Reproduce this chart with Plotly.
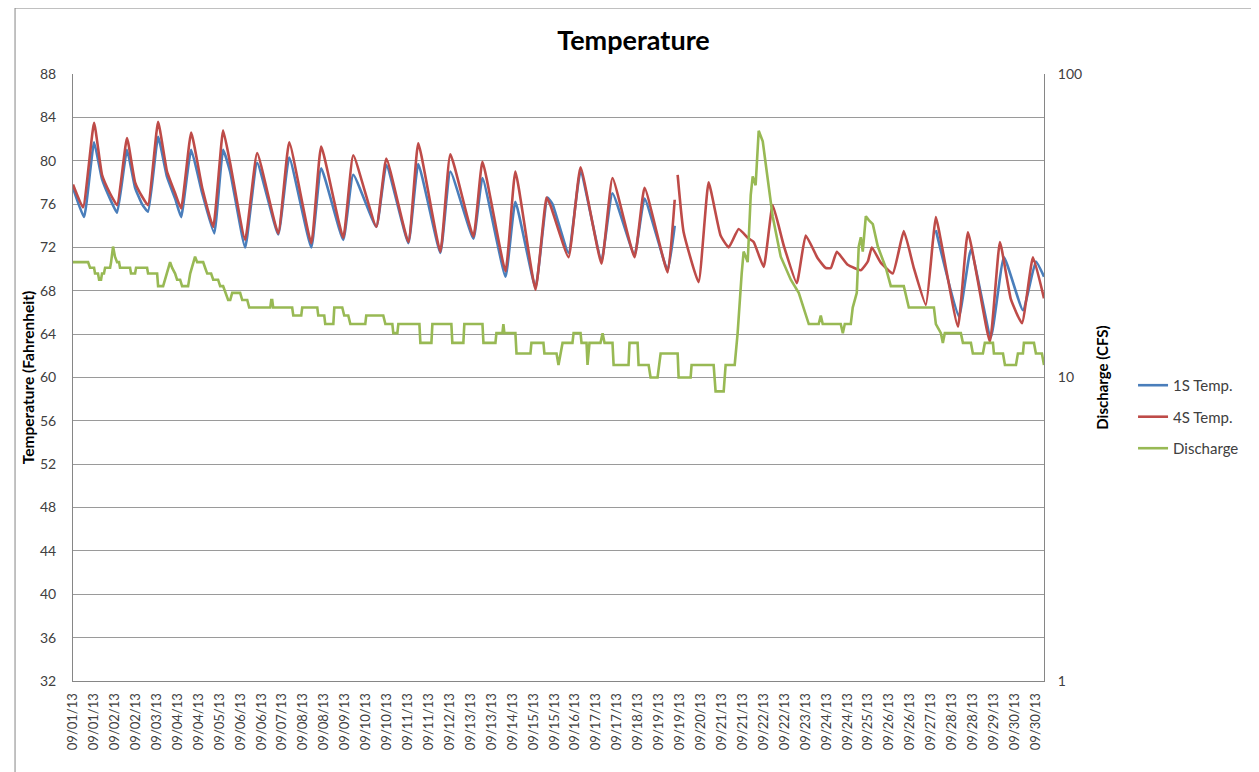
import plotly.graph_objects as go

# ---- tick labels (one every 15 hourly samples) ----
tick_labels = ["09/01/13", "09/01/13", "09/02/13", "09/02/13", "09/03/13", "09/04/13", "09/04/13",
               "09/05/13", "09/06/13", "09/06/13", "09/07/13", "09/08/13", "09/08/13", "09/09/13",
               "09/10/13", "09/10/13", "09/11/13", "09/11/13", "09/12/13", "09/13/13", "09/13/13",
               "09/14/13", "09/15/13", "09/15/13", "09/16/13", "09/17/13", "09/17/13", "09/18/13",
               "09/19/13", "09/19/13", "09/20/13", "09/21/13", "09/21/13", "09/22/13", "09/22/13",
               "09/23/13", "09/24/13", "09/24/13", "09/25/13", "09/26/13", "09/26/13", "09/27/13",
               "09/28/13", "09/28/13", "09/29/13", "09/30/13", "09/30/13"]
tick_hours = [15 * i for i in range(len(tick_labels))]

# ---- 4S Temp. (hours since start, deg F) ----
t4_hours = [0, 7.2, 15.1, 20.8, 26.5, 31.6, 38.7, 44.5, 49.5, 53.8, 61.0, 67.4, 73.2, 77.5, 84.7,
            92.6, 100.5, 107.6, 112.6, 123.4, 132.0, 147.1, 155.0, 170.8, 177.9, 193.7, 200.9,
            217.4, 224.6, 240.4, 247.5, 263.3, 270.5, 287.0, 293.5, 310.0, 317.1, 331.5, 339.4,
            342.2, 355.2, 363.8, 378.8, 386.7, 402.5, 409.7, 426.2, 431.3, 432.3, 433.4, 437.7,
            448.4, 455.6, 464.2, 470.0, 477.1, 483.6, 487.9, 495.1, 501.5, 509.4, 518.8, 525.2,
            533.8, 539.6, 543.2, 547.5, 555.3, 564.7, 569.7, 572.6, 579.0, 587.6, 595.5, 602.7,
            611.3, 616.3, 618.5, 634.3, 641.5, 657.2, 664.4, 672.3, 680.2, 688.1, 696.0]
t4_temp = [77.8, 75.7, 83.5, 78.7, 77.0, 75.9, 82.1, 78.0, 76.7, 75.9, 83.6, 79.0, 77.0, 75.6, 82.6,
           77.5, 73.9, 82.8, 79.8, 72.7, 80.7, 73.3, 81.7, 72.4, 81.3, 72.9, 80.5,
           73.9, 80.2, 72.5, 81.6, 71.6, 80.6, 73.0, 79.9, 69.8, 79.0, 68.1, 76.6,
           75.9, 71.1, 79.4, 70.5, 78.4, 71.1, 77.5, 69.7, 76.4, None, 78.7, 73.4,
           68.8, 78.0, 73.1, 72.0, 73.7, 72.9, 72.5, 70.2, 75.9, 72.2, 68.7, 73.1,
           71.0, 70.1, 70.1, 71.6, 70.4, 69.9, 70.7, 72.0, 70.6, 69.6, 73.5, 70.1,
           66.7, 72.5, 74.8, 64.7, 73.4, 63.3, 72.5, 67.2, 65.0, 71.1, 67.3]

# ---- 1S Temp. ----
t1_hours = [0, 7.9, 15.1, 20.8, 26.5, 31.6, 38.7, 44.5, 49.5, 53.8, 61.0, 67.4, 73.2, 77.5, 84.7,
            92.6, 101.2, 107.6, 112.6, 123.4, 132.0, 147.1, 155.0, 170.8, 177.9, 193.7, 200.9,
            217.4, 224.6, 240.4, 247.5, 263.3, 270.5, 287.0, 293.5, 310.0, 317.1, 331.5, 340.1,
            343.7, 355.2, 363.8, 378.8, 386.7, 402.5, 409.7, 426.2, 431.3, 500.0, 618.5, 635.0,
            643.6, 657.9, 667.3, 680.9, 690.2, 696.0]
t1_temp = [77.5, 74.8, 81.7, 78.3, 76.5, 75.2, 81.0, 77.5, 76.0, 75.3, 82.2, 78.5, 76.5, 74.8, 81.0,
           77.0, 73.3, 81.0, 79.0, 72.0, 79.8, 73.2, 80.3, 72.0, 79.3, 72.7, 78.7,
           73.9, 79.6, 72.4, 79.7, 71.5, 79.0, 72.8, 78.4, 69.3, 76.2, 68.3, 76.6,
           76.0, 71.5, 79.0, 70.8, 77.0, 71.3, 76.5, 69.9, 74.0, None, 73.6, 65.6,
           71.8, 63.7, 71.1, 66.2, 70.7, 69.3]

# ---- Discharge (CFS) ----
q_hours = [0, 10.8, 12.2, 15.1, 15.8, 17.9, 18.7, 20.1, 20.8, 22.2, 23.0, 26.6, 27.3, 28.7, 30.1,
           31.6, 33.0, 33.7, 40.9, 41.6, 44.5, 45.2, 53.1, 53.8, 60.3, 61.0, 64.6, 66.0, 69.6,
           71.0, 73.2, 74.6, 76.8, 78.2, 82.5, 84.0, 87.5, 89.0, 93.3, 94.7, 96.2, 99.0, 100.5,
           104.0, 105.5, 107.6, 109.1, 111.2, 112.7, 114.1, 119.8, 121.3, 124.9, 126.3, 141.4,
           142.1, 142.8, 143.5, 157.1, 157.9, 163.6, 164.3, 175.1, 175.8, 180.1, 180.8, 186.6,
           187.3, 193.0, 194.4, 197.3, 198.8, 209.5, 210.2, 222.4, 223.9, 228.9, 229.6, 232.5,
           233.2, 248.3, 249.0, 256.9, 257.6, 271.2, 271.9, 279.8, 280.5, 293.5, 294.2, 302.8,
           303.5, 307.8, 308.5, 309.2, 317.1, 317.9, 327.9, 328.6, 337.2, 337.9, 346.6, 348.0,
           349.4, 350.9, 358.0, 358.8, 363.8, 364.5, 368.1, 368.8, 370.2, 378.1, 379.6, 381.0,
           386.7, 387.5, 398.2, 398.9, 404.7, 405.4, 412.6, 414.0, 419.0, 421.2, 433.4, 434.1,
           442.7, 443.4, 459.2, 460.6, 466.4, 467.8, 474.3, 476.4, 479.3, 480.7, 482.2, 483.6,
           485.8, 487.2, 489.3, 491.5, 494.4, 498.0, 501.5, 507.3, 514.5, 520.2, 523.8, 527.4,
           534.5, 536.0, 537.4, 550.3, 551.8, 553.2, 557.5, 558.9, 561.8, 563.2, 564.7, 566.1,
           568.3, 570.4, 573.3, 576.9, 582.6, 586.2, 595.5, 597.7, 599.1, 617.1, 618.5, 622.1,
           623.5, 624.9, 636.4, 637.9, 643.6, 645.0, 652.2, 653.6, 659.4, 660.1, 666.6, 668.0,
           675.9, 677.3, 680.9, 681.6, 688.8, 690.2, 694.5, 696.0]
q_cfs = [24, 24, 23, 23, 22, 22, 21, 21, 22, 22, 23, 23, 24, 27, 25,
         24, 24, 23, 23, 22, 22, 23, 23, 22, 22, 20, 20, 21, 24,
         23, 22, 21, 21, 20, 20, 22, 25, 24, 24, 23, 22, 22, 21,
         21, 20, 20, 19, 18, 18, 19, 19, 18, 18, 17, 17,
         18, 18, 17, 17, 16, 16, 17, 17, 16, 16, 15, 15,
         17, 17, 16, 16, 15, 15, 16, 16, 15, 15, 14, 14,
         15, 15, 13, 13, 15, 15, 13, 13, 15, 15, 13, 13,
         14, 14, 15, 14, 14, 12, 12, 13, 13, 12, 12, 11,
         12, 13, 13, 14, 14, 13, 13, 11, 13, 13, 14, 13,
         13, 11, 11, 13, 13, 11, 11, 10, 10, 12, 12, 10,
         10, 11, 11, 9, 9, 11, 11, 14, 22, 26, 25, 24,
         40, 46, 43, 65, 60, 44, 34, 25, 21, 19, 17, 15,
         15, 16, 15, 15, 14, 15, 15, 17, 19, 27, 29, 26,
         34, 33, 32, 27, 23, 20, 20, 18, 17, 17, 15, 14,
         13, 14, 14, 13, 13, 12, 12, 13, 13, 12, 12, 11,
         11, 12, 12, 13, 13, 12, 12, 11]

BLUE = "#4A7EBB"
RED = "#BE4B48"
GREEN = "#98B954"
FONT = "Lato, 'Open Sans', sans-serif"

fig = go.Figure()
fig.add_trace(go.Scatter(x=t1_hours, y=t1_temp, mode="lines", name="1S Temp.", legendgroup="a",
                         line=dict(color=BLUE, width=2.6, shape="spline", smoothing=0.4)))
fig.add_trace(go.Scatter(x=t4_hours, y=t4_temp, mode="lines", name="4S Temp.", legendgroup="b",
                         line=dict(color=RED, width=2.6, shape="spline", smoothing=0.4)))
fig.add_trace(go.Scatter(x=q_hours, y=q_cfs, mode="lines", name="Discharge", yaxis="y2",
                         legendgroup="c", line=dict(color=GREEN, width=2.6)))

fig.update_layout(
    width=1251, height=764,
    paper_bgcolor="white", plot_bgcolor="white",
    margin=dict(l=65, r=215, t=66, b=91, autoexpand=False),
    font=dict(family=FONT, color="#404040", size=12),
    title=dict(text="<b>Temperature</b>", x=0.5, xref="container", y=0.958, yref="container",
               xanchor="center", yanchor="middle",
               font=dict(size=27, color="#000000", family=FONT)),
    showlegend=True,
    legend=dict(x=1.0917, y=0.435, xanchor="left", yanchor="middle",
                font=dict(size=15, color="#404040"), tracegroupgap=9,
                itemwidth=30, bgcolor="rgba(0,0,0,0)"),
    xaxis=dict(range=[0, 696], tickmode="array", tickvals=tick_hours, ticktext=tick_labels,
               tickangle=-90, tickfont=dict(size=13, color="#404040"),
               showgrid=False, showline=True, linecolor="#868686", linewidth=1,
               ticks="", ticklabelstandoff=6, zeroline=False, automargin=False),
    yaxis=dict(range=[32, 88], tickmode="array", tickvals=list(range(32, 89, 4)),
               showgrid=True, gridcolor="#9a9a9a", gridwidth=1,
               showline=True, linecolor="#868686", linewidth=1, zeroline=False,
               tickfont=dict(size=14, color="#404040"), ticks="", ticklabelstandoff=13,
               automargin=False,
               title=dict(text="<b>Temperature (Fahrenheit)</b>", standoff=1,
                          font=dict(size=15.5, color="#000000"))),
    yaxis2=dict(overlaying="y", side="right", type="log", range=[0, 2],
                tickmode="array", tickvals=[1, 10, 100], ticktext=["1", "10", "100"],
                showgrid=False, showline=True, linecolor="#868686", linewidth=1,
                tickfont=dict(size=14, color="#404040"), ticks="", ticklabelstandoff=10,
                automargin=False,
                title=dict(text="<b>Discharge (CFS)</b>", standoff=16,
                           font=dict(size=15, color="#000000"))),
)

# chart border
fig.add_shape(type="rect", xref="paper", yref="paper", x0=-0.0597, x1=1.214, y0=-0.16, y1=1.1087,
              line=dict(color="#868686", width=1), fillcolor="rgba(0,0,0,0)", layer="below")

fig.write_html("out.html")
